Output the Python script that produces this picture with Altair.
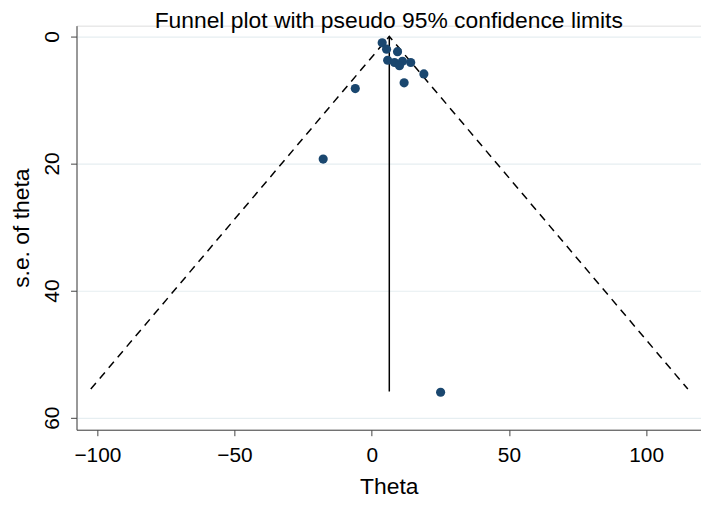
import altair as alt
import pandas as pd

# Study estimates (theta) and their standard errors
theta = [3.8, 5.4, 9.4, 5.8, 8.3, 11.2, 10.1, 14.2, 19.0, 11.8, -6.0, -17.7, 25.1]
se = [1.0, 2.0, 2.4, 3.75, 4.1, 3.9, 4.6, 4.1, 5.9, 7.3, 8.2, 19.3, 56.0]

# Pooled estimate and pseudo 95% confidence limits
pooled = 6.4
se_max = 55.9
ci_x = [-102.4, 6.4, 115.2]
ci_se = [55.5, 0.0, 55.5]

x_ticks = [-100, -50, 0, 50, 100]
y_ticks = [0, 20, 40, 60]

pts = pd.DataFrame({"theta": theta, "se": se})
ci = pd.DataFrame({"theta": ci_x, "se": ci_se, "order": [0, 1, 2]})
vline = pd.DataFrame({"theta": [pooled, pooled], "se": [0.0, se_max]})

font = "Liberation Sans"
xscale = alt.Scale(domain=[-107.6, 120], nice=False, zero=False)
yscale = alt.Scale(domain=[-1.7, 61.9], nice=False, zero=False, reverse=True)

xaxis = alt.Axis(values=x_ticks, title="Theta", grid=False, labelFontSize=21,
                 titleFontSize=23, labelFont=font, titleFont=font,
                 labelColor="black", titleColor="black", titleFontWeight="normal",
                 domainColor="#444", tickColor="#444", tickSize=6,
                 labelPadding=9, titlePadding=10, labelFlush=False)
yaxis = alt.Axis(values=y_ticks, title="s.e. of theta", grid=True,
                 gridColor="#e6eef1", gridWidth=1.2, labelFontSize=21,
                 titleFontSize=23, labelFont=font, titleFont=font,
                 labelColor="black", titleColor="black", titleFontWeight="normal",
                 domainColor="#444", tickColor="#444", tickSize=6, labelAngle=-90,
                 labelPadding=8, titlePadding=8, labelFlush=False)

base_x = alt.X("theta:Q", scale=xscale, axis=xaxis)
base_y = alt.Y("se:Q", scale=yscale, axis=yaxis)

ci_lines = alt.Chart(ci).mark_line(color="black", strokeDash=[8, 6], strokeWidth=1.5).encode(
    x=base_x, y=base_y, order="order:Q")
vert = alt.Chart(vline).mark_line(color="black", strokeWidth=1.5).encode(
    x=alt.X("theta:Q", scale=xscale), y=alt.Y("se:Q", scale=yscale))
points = alt.Chart(pts).mark_circle(color="#1a476f", opacity=1, size=85).encode(
    x=alt.X("theta:Q", scale=xscale), y=alt.Y("se:Q", scale=yscale))

chart = alt.layer(ci_lines, vert, points).properties(
    width=629, height=407,
    title=alt.TitleParams("Funnel plot with pseudo 95% confidence limits",
                          font=font, fontSize=23, fontWeight="normal", color="black",
                          anchor="middle", offset=4, dy=11),
    autosize=alt.AutoSizeParams(type="none"),
    padding={"left": 69, "top": 16, "right": 0, "bottom": 70},
).configure_view(stroke=None).configure(background="white")

chart.save("out.html", embed_options={"renderer": "svg", "actions": False})
